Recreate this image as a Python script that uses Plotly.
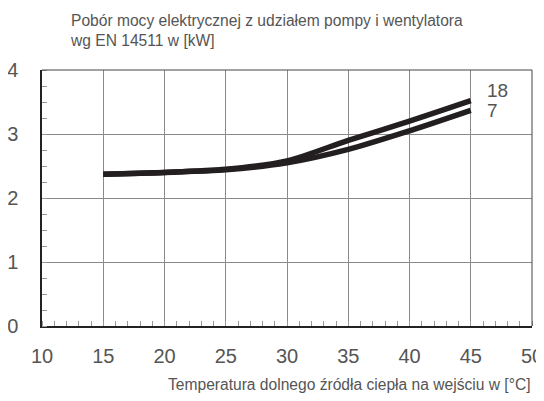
import plotly.graph_objects as go

temps = [15, 20, 25, 30, 35, 40, 45]
series_18 = [2.37, 2.40, 2.45, 2.58, 2.90, 3.20, 3.52]
series_7 = [2.37, 2.40, 2.44, 2.55, 2.76, 3.05, 3.37]
series_names = ["18", "7"]
x_ticks = [10, 15, 20, 25, 30, 35, 40, 45, 50]
y_ticks = [0, 1, 2, 3, 4]

title_text = "Pobór mocy elektrycznej z udziałem pompy i wentylatora<br>wg EN 14511 w [kW]"
x_title = "Temperatura dolnego źródła ciepła na wejściu w [°C]"

FONT = "Liberation Sans, Arial, sans-serif"
fig = go.Figure()
for name, ys in zip(series_names, [series_18, series_7]):
    fig.add_trace(go.Scatter(x=temps, y=ys, mode="lines", name=name,
                             line=dict(color="#231f20", width=5.5, shape="spline", smoothing=0.8),
                             showlegend=False))
    fig.add_annotation(x=temps[-1], y=ys[-1], text=name, showarrow=False,
                       xanchor="left", xshift=14, yshift=10 if name == "18" else 0,
                       font=dict(family=FONT, size=19, color="#555"))

fig.update_layout(
    width=536, height=385,
    margin=dict(l=34, r=12, t=62, b=67),
    paper_bgcolor="white", plot_bgcolor="white",
    font=dict(family=FONT, color="#555"),
)
fig.update_xaxes(range=[10, 50], tickvals=x_ticks, ticks="", showgrid=True, gridcolor="#8a8a8a",
                 gridwidth=1, showline=True, linecolor="#222", linewidth=1.5, mirror=False,
                 tickfont=dict(size=20, color="#555"), ticklabelstandoff=11, automargin=False,
                 minor=dict(dtick=1, ticks="inside", ticklen=5, tickcolor="#999", showgrid=False),
                 zeroline=False)
fig.update_yaxes(range=[0, 4], tickvals=y_ticks, ticks="", showgrid=True, gridcolor="#8a8a8a",
                 gridwidth=1, showline=True, linecolor="#222", linewidth=1.5,
                 tickfont=dict(size=20, color="#555"), ticklabelstandoff=18, automargin=False,
                 minor=dict(dtick=0.25, ticks="inside", ticklen=5, tickcolor="#999", showgrid=False),
                 zeroline=False)
# top and right borders
fig.add_shape(type="line", xref="paper", yref="paper", x0=0, x1=1, y0=1, y1=1,
              line=dict(color="#444", width=1))
fig.add_shape(type="line", xref="paper", yref="paper", x0=1, x1=1, y0=0, y1=1,
              line=dict(color="#444", width=1))

fig.add_annotation(text=title_text, xref="paper", yref="paper", x=0.053, y=1.0, yshift=60,
                   xanchor="left", yanchor="top", align="left", showarrow=False,
                   font=dict(family=FONT, size=15.6, color="#555"))
fig.add_annotation(text=x_title, xref="paper", yref="paper", x=1.0, y=0, yshift=-48,
                   xanchor="right", yanchor="top", showarrow=False,
                   font=dict(family=FONT, size=15.6, color="#555"))

fig.write_html("out.html")
